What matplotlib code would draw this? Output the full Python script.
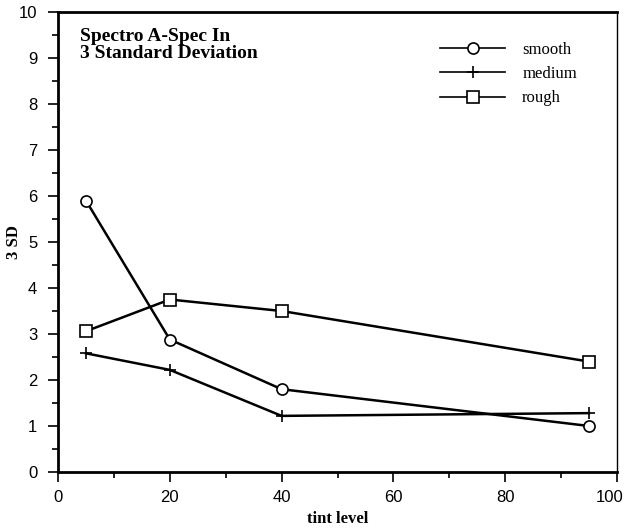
import matplotlib
matplotlib.use("Agg")
import matplotlib.pyplot as plt
from matplotlib.ticker import MultipleLocator
from matplotlib.transforms import ScaledTranslation

tint = [5, 20, 40, 95]
smooth = [5.9, 2.88, 1.8, 1.0]
medium = [2.58, 2.22, 1.22, 1.28]
rough = [3.06, 3.75, 3.5, 2.4]

fig = plt.figure(figsize=(6.29, 5.31), dpi=100)
ax = fig.add_axes([58/629, 1-472/531, (617-58)/629, (472-12)/531])

ax.plot(tint, smooth, color='black', lw=1.8, marker='o', ms=8, mfc='white', mec='black', mew=1.2, label='smooth')
ax.plot(tint, medium, color='black', lw=1.8, marker='+', ms=9, mew=1.2, label='medium')
ax.plot(tint, rough, color='black', lw=1.8, marker='s', ms=8, mfc='white', mec='black', mew=1.2, label='rough')

ax.set_xlim(0, 100)
ax.set_ylim(0, 10)
ax.xaxis.set_major_locator(MultipleLocator(20))
ax.xaxis.set_minor_locator(MultipleLocator(10))
ax.yaxis.set_major_locator(MultipleLocator(1))
ax.yaxis.set_minor_locator(MultipleLocator(0.5))
ax.tick_params(axis='both', which='both', direction='out', labelsize=12, width=1.2)
ax.tick_params(which='major', length=7)
ax.tick_params(which='minor', length=4)
ax.tick_params(axis='y', which='major', pad=8)
ax.tick_params(axis='x', which='major', pad=6)
fig.canvas.draw()
for lab in ax.get_xticklabels() + ax.get_yticklabels():
    lab.set_fontfamily('Liberation Sans')
for tick in ax.xaxis.get_major_ticks():
    if abs(tick.get_loc() - 100) < 1e-6:
        tick.label1.set_transform(tick.label1.get_transform() +
                                  ScaledTranslation(-5/72, 0, fig.dpi_scale_trans))

ax.spines['left'].set_linewidth(2)
ax.spines['bottom'].set_linewidth(2)
ax.spines['top'].set_linewidth(2)
ax.spines['right'].set_linewidth(1)

ax.set_xlabel('tint level', fontfamily='Liberation Serif', fontweight='bold', fontsize=12, labelpad=4)
ax.set_ylabel('3 SD', fontfamily='Liberation Serif', fontweight='bold', fontsize=12)
ax.yaxis.set_label_coords(-0.065, 0.5)

ax.text(0.04, 0.965, 'Spectro A-Spec In\n3 Standard Deviation', transform=ax.transAxes,
        fontfamily='Liberation Serif', fontweight='bold', fontsize=14, va='top', ha='left', linespacing=1.0)

leg = ax.legend(loc='upper right', bbox_to_anchor=(0.955, 0.968), frameon=False,
                prop={'family': 'Liberation Serif', 'size': 12}, handlelength=3.9, labelspacing=0.5, handletextpad=1.0)
for h in leg.legend_handles:
    h.set_linewidth(1.2)

fig.savefig('out.png', dpi=100)
